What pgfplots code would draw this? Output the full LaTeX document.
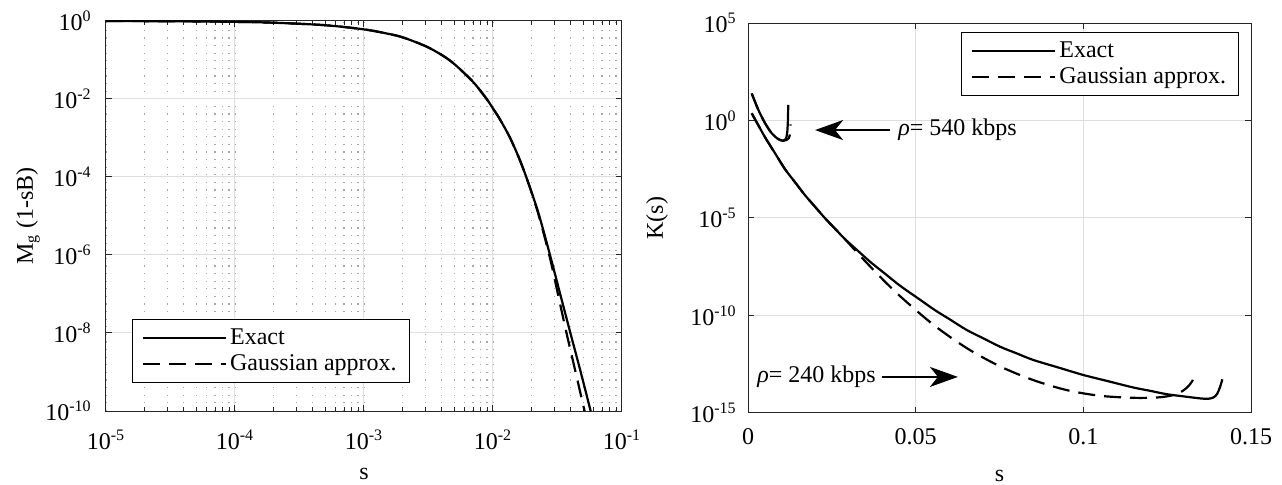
\documentclass[border=0pt]{standalone}
\usepackage{fontspec}
\setmainfont{Liberation Serif}
\usepackage{pgfplots}
\pgfplotsset{compat=1.18}
\usetikzlibrary{arrows.meta}
\definecolor{axgray}{RGB}{38,38,38}
\definecolor{gridgray}{RGB}{222,222,222}
\definecolor{minorgray}{RGB}{165,165,165}
\pgfplotsset{
  mystyle/.style={
    scale only axis,
    height=195pt,
    axis line style={axgray, line width=0.5pt},
    every tick/.style={axgray, line width=0.5pt},
    tick align=inside,
    major tick length=3pt,
    minor tick length=1.8pt,
    major grid style={gridgray, line width=0.5pt},
    minor grid style={minorgray, line width=0.6pt, dash pattern=on 0.6pt off 3.2pt},
    yminorticks=false,
    legend cell align=left,
    legend style={draw=black, line width=0.5pt, fill=white, inner xsep=4.5pt, inner ysep=3pt,
      nodes={inner sep=1.7pt}, row sep=0pt, font=\fontsize{12}{14}\selectfont},
    legend image code/.code={\draw[#1] (0pt,0pt) -- (41.5pt,0pt);},
    yticklabel style={inner sep=0pt, anchor=east},
    xticklabel style={inner sep=0pt, anchor=base},
    ylabel style={anchor=center},
    xlabel style={at={(axis description cs:0.5,0)}, anchor=base, inner sep=0pt},
  },
  exact/.style={black, line width=1.1pt, smooth, tension=0.5},
  gauss/.style={black, line width=1.1pt, smooth, tension=0.5, dash pattern=on 8.5pt off 4.5pt},
}
\begin{document}
\begin{tikzpicture}[font=\fontsize{12}{14}\selectfont]
% ---------------- left panel ----------------
\begin{axis}[mystyle,
  at={(53pt,-205.5pt)}, anchor=south west,
  width=258pt,
  xmode=log, ymode=log,
  xmin=1e-5, xmax=1e-1, ymin=1e-10, ymax=1,
  xtick={1e-5,1e-4,1e-3,1e-2,1e-1},
  xticklabels={10\textsuperscript{-5},10\textsuperscript{-4},10\textsuperscript{-3},10\textsuperscript{-2},10\textsuperscript{-1}},
  ytick={1e-10,1e-8,1e-6,1e-4,1e-2,1},
  yticklabels={10\textsuperscript{-10},10\textsuperscript{-8},10\textsuperscript{-6},10\textsuperscript{-4},10\textsuperscript{-2},10\textsuperscript{0}},
  xticklabel style={yshift=-19pt},
  yticklabel style={xshift=-7pt},
  xmajorgrids, ymajorgrids, xminorgrids,
  xlabel={s}, xlabel style={yshift=-34.5pt},
  ylabel={M\textsubscript{g} (1-sB)}, ylabel style={at={(axis description cs:-0.1512,0.5)}},
  legend style={at={(0.0504,0.0718)}, anchor=south west},
]
\addplot[exact] coordinates {
(1e-5,0.9954) (2e-5,0.9908) (5e-5,0.9750) (1e-4,0.9506) (2e-4,0.9036) (5e-4,0.7798)
(1e-3,0.6095) (1.5e-3,0.4786) (2e-3,0.3802) (3e-3,0.2265) (4e-3,0.1349) (5e-3,0.07943)
(7e-3,0.02754) (8.93e-3,0.01) (0.01,5.689e-3) (0.01122,3.162e-3) (0.01349,1.047e-3)
(0.01585,3.162e-4) (0.01820,9.55e-5) (0.02239,1.259e-5) (0.02767,1e-6) (0.03311,1.023e-7)
(0.03981,1e-8) (0.04786,1e-9) (0.05715,1e-10)
};
\addlegendentry{Exact}
\addplot[gauss] coordinates {
(1e-5,0.9954) (2e-5,0.9908) (5e-5,0.9750) (1e-4,0.9506) (2e-4,0.9036) (5e-4,0.7798)
(1e-3,0.6095) (1.5e-3,0.4786) (2e-3,0.3802) (3e-3,0.2265) (4e-3,0.1349) (5e-3,0.07943)
(7e-3,0.02754) (8.93e-3,0.01) (0.01,5.689e-3) (0.01122,3.162e-3) (0.01349,1.047e-3)
(0.01585,3.162e-4) (0.01820,9.55e-5) (0.02239,1.175e-5) (0.02767,8.318e-7) (0.03162,1.122e-7)
(0.03715,1e-8) (0.04365,1e-9) (0.05129,1e-10)
};
\addlegendentry{Gaussian approx.}
\end{axis}
% ---------------- right panel ----------------
\begin{axis}[mystyle,
  at={(374pt,-206.5pt)}, anchor=south west,
  width=251.5pt,
  ymode=log,
  xmin=0, xmax=0.15, ymin=1e-15, ymax=1e5,
  xtick={0,0.05,0.1,0.15},
  xticklabels={0,0.05,0.1,0.15},
  ytick={1e-15,1e-10,1e-5,1,1e5},
  yticklabels={10\textsuperscript{-15},10\textsuperscript{-10},10\textsuperscript{-5},10\textsuperscript{0},10\textsuperscript{5}},
  xticklabel style={yshift=-16pt},
  yticklabel style={xshift=-5.5pt},
  xmajorgrids, ymajorgrids,
  xlabel={s}, xlabel style={yshift=-34.5pt},
  ylabel={K(s)}, ylabel style={at={(axis description cs:-0.1809,0.5)}},
  legend style={at={(0.976,0.977)}, anchor=north east},
]
% rho = 240 kbps
\addplot[exact] coordinates {
(0.00110,2.339) (0.00307,0.5741) (0.00507,0.1393) (0.00805,2.104e-2) (0.01104,3.184e-3)
(0.01402,6.855e-4) (0.01700,1.476e-4) (0.01998,3.793e-5) (0.02296,9.772e-6) (0.02595,2.825e-6)
(0.02893,8.185e-7) (0.03266,2.168e-7) (0.03639,5.741e-8) (0.04086,1.393e-8) (0.04533,3.373e-9)
(0.05055,7.943e-10) (0.05577,1.871e-10) (0.06024,6.237e-11) (0.06523,1.803e-11) (0.07009,6.855e-12)
(0.07516,2.512e-12) (0.08014,1.138e-12) (0.08509,5.224e-13) (0.09245,2.178e-13) (0.1,8.892e-14)
(0.10737,4.276e-14) (0.11491,2.032e-14) (0.11989,1.374e-14) (0.12487,9.204e-15) (0.12973,7.178e-15)
(0.13480,5.610e-15) (0.13719,5.346e-15) (0.13877,6.237e-15) (0.13988,9.419e-15) (0.14077,2.153e-14)
(0.14146,5.346e-14)
};
\addlegendentry{Exact}
\addplot[gauss] coordinates {
(0.00110,2.339) (0.00307,0.5741) (0.00507,0.1393) (0.00805,2.104e-2) (0.01104,3.184e-3)
(0.01402,6.855e-4) (0.01700,1.476e-4) (0.01998,3.793e-5) (0.02296,9.772e-6) (0.02595,2.825e-6)
(0.02893,8.185e-7) (0.0334,1.167e-7) (0.03937,9.772e-9) (0.04533,9.886e-10) (0.05526,3.373e-11)
(0.06523,2.128e-12) (0.07516,2.455e-13) (0.08509,4.864e-14) (0.09505,1.493e-14) (0.10498,7.621e-15)
(0.11491,6.012e-15) (0.12138,6.166e-15) (0.12487,7.096e-15) (0.12735,8.892e-15) (0.12983,1.426e-14)
(0.13152,2.570e-14) (0.13281,5.346e-14)
};
\addlegendentry{Gaussian approx.}
% rho = 540 kbps
\addplot[exact, forget plot] coordinates {
(0.0011,24.55) (0.0031,3.467) (0.0051,0.7244) (0.0071,0.2188) (0.009,0.1122) (0.0105,0.0912)
(0.0113,0.1122) (0.0117,0.2512) (0.0119,1.0) (0.0120,6.31)
};
\addplot[gauss, forget plot] coordinates {
(0.0011,24.55) (0.0031,3.467) (0.0051,0.7244) (0.0071,0.2188) (0.009,0.1122) (0.0105,0.0912)
(0.0115,0.1) (0.0122,0.1259) (0.0126,0.2512) (0.0127,0.631)
};
\draw[black, line width=0.8pt, -{Stealth[length=14pt, width=10pt, inset=4pt]}]
  (axis cs:0.04235,0.3236) -- (axis cs:0.0200,0.3236);
\node[anchor=west, inner sep=0pt] at (axis cs:0.0447,0.3236) {\textit{ρ}= 540 kbps};
\draw[black, line width=0.8pt, -{Stealth[length=14pt, width=10pt, inset=4pt]}]
  (axis cs:0.0400,7.08e-14) -- (axis cs:0.0626,7.08e-14);
\node[anchor=east, inner sep=0pt] at (axis cs:0.0382,7.08e-14) {\textit{ρ}= 240 kbps};
\end{axis}
\pgfresetboundingbox
\path (0pt,0pt) rectangle (641pt,-242.5pt);
\end{tikzpicture}
\end{document}
